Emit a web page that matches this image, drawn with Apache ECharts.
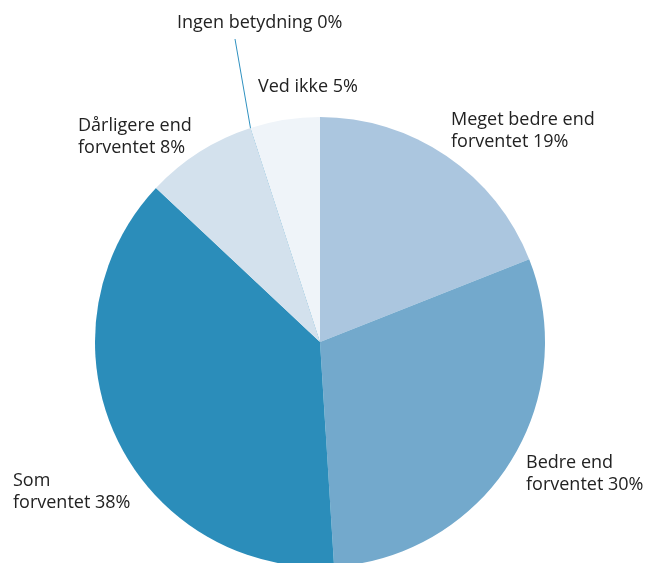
<!DOCTYPE html>
<html>
<head>
<meta charset="utf-8">
<style>
  html, body { margin: 0; padding: 0; background: #ffffff; }
  #chart { width: 646px; height: 563px; }
</style>
<script src="https://cdn.jsdelivr.net/npm/echarts@6/dist/echarts.min.js"></script>
</head>
<body>
<div id="chart"></div>
<script>
// Survey answers, clockwise from 12 o'clock
const categories = [
  'Meget bedre end\nforventet',
  'Bedre end\nforventet',
  'Som\nforventet',
  'Dårligere end\nforventet',
  'Ingen betydning',
  'Ved ikke'
];
const shares = [19, 30, 38, 8, 0, 5];

const sliceColors = ['#abc6df', '#73a9cc', '#2b8dba', '#d3e1ed', '#2b8dba', '#eff4f9'];
// left edge / vertical middle of each label block
const labelAnchors = [
  [451, 131], [526, 474], [13, 492], [78, 137], [177, 23], [258, 87]
];
const pieCenter = [320, 342];
const ZERO_INDEX = 4;

const chart = echarts.init(document.getElementById('chart'), null, { renderer: 'canvas' });

chart.setOption({
  animation: false,
  series: [{
    type: 'pie',
    center: pieCenter,
    radius: [0, 225],
    startAngle: 90,
    clockwise: true,
    minAngle: 0,
    avoidLabelOverlap: false,
    itemStyle: { borderWidth: 0 },
    label: {
      show: true,
      position: 'outside',
      formatter: p => p.name + ' ' + p.value + '%',
      fontFamily: 'Open Sans',
      fontSize: 18,
      lineHeight: 22,
      color: '#222222'
    },
    labelLine: { show: false },
    labelLayout: params => {
      const a = labelAnchors[params.dataIndex];
      const out = { x: a[0], y: a[1], align: 'left', verticalAlign: 'middle' };
      if (params.dataIndex === ZERO_INDEX && params.labelLinePoints) {
        // the empty answer is drawn as a hairline from the centre, out to its label
        const edge = params.labelLinePoints[0];
        out.labelLinePoints = [pieCenter.slice(), edge.slice(), [a[0] + 58, a[1] + 16]];
      }
      return out;
    },
    data: categories.map((name, i) => ({
      name: name,
      value: shares[i],
      itemStyle: { color: sliceColors[i] },
      labelLine: i === ZERO_INDEX
        ? { show: true, length: 10, length2: 10, smooth: false, lineStyle: { color: '#2f91c0', width: 1 } }
        : { show: false }
    }))
  }]
});
</script>
</body>
</html>
